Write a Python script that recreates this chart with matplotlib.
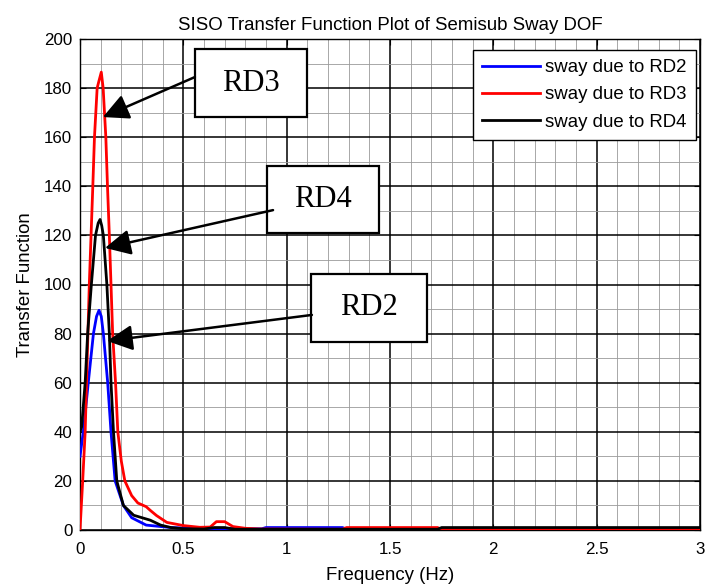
import numpy as np
import matplotlib as mpl
mpl.use("Agg")
import matplotlib.pyplot as plt
from matplotlib.patches import Rectangle
from matplotlib.ticker import MultipleLocator

mpl.rcParams.update({
    "font.family": "Liberation Sans",
    "font.size": 12.2,
    "axes.linewidth": 1.0,
})

# --- data --------------------------------------------------------------
freq_rd2 = [0, 0.016, 0.04, 0.065, 0.08, 0.092, 0.103, 0.113, 0.134, 0.15,
            0.17, 0.21, 0.25, 0.32, 0.44, 0.6, 0.88, 0.9, 1.27, 1.29, 3.0]
tf_rd2 = [30, 40, 60, 80, 87, 89.5, 87, 80, 60, 40,
          20, 10, 5, 2, 1, 0.5, 0.5, 1.0, 1.0, 0.3, 0.3]

freq_rd3 = [0, 0.013, 0.025, 0.045, 0.062, 0.07, 0.083, 0.092, 0.103, 0.112,
            0.125, 0.133, 0.142, 0.15, 0.158, 0.172, 0.183, 0.2, 0.217, 0.25,
            0.28, 0.32, 0.34, 0.37, 0.42, 0.5, 0.58, 0.63, 0.66, 0.7,
            0.74, 0.8, 0.87, 1.27, 1.29, 1.73, 1.75, 3.0]
tf_rd3 = [0, 20, 40, 100, 140, 160, 180, 183, 186.5, 180,
          160, 140, 120, 100, 80, 60, 40, 28, 20, 14,
          11, 9.5, 8, 5.9, 3.1, 1.8, 1.1, 1.2, 3.4, 3.4,
          1.4, 0.7, 0.4, 0.3, 1.0, 1.0, 0.3, 0.3]

freq_rd4 = [0, 0.008, 0.025, 0.037, 0.055, 0.075, 0.088, 0.097, 0.105, 0.113,
            0.13, 0.142, 0.15, 0.162, 0.178, 0.21, 0.26, 0.34, 0.39, 0.44,
            0.5, 0.6, 0.65, 0.7, 0.75, 1.73, 1.75, 3.0]
tf_rd4 = [40, 42, 60, 80, 100, 120, 125, 126.5, 124, 120,
          100, 80, 60, 40, 20, 10, 6, 4, 2, 1,
          0.5, 0.4, 1.0, 1.0, 0.3, 0.3, 1.0, 1.0]

series = [
    (freq_rd2, tf_rd2, "#0000FF", "sway due to RD2"),
    (freq_rd3, tf_rd3, "#FF0000", "sway due to RD3"),
    (freq_rd4, tf_rd4, "#000000", "sway due to RD4"),
]

# annotation boxes: label, box (x0, x1, y0, y1), arrow tail, arrow tip
notes = [
    ("RD3", (0.556, 1.098, 168.2, 195.9), (0.556, 184.5), (0.111, 168.2)),
    ("RD4", (0.905, 1.447, 121.0, 148.3), (0.934, 130.3), (0.121, 114.9)),
    ("RD2", (1.118, 1.680, 76.6, 104.3), (1.122, 87.6), (0.131, 77.0)),
]

# --- figure ------------------------------------------------------------
fig = plt.figure(figsize=(7.07, 5.84), dpi=100)
ax = fig.add_axes([80 / 707, 54 / 584, 620 / 707, 491 / 584])

for x, y, c, lab in series:
    ax.plot(x, y, color=c, lw=2.0, label=lab, zorder=3)

ax.set_xlim(0, 3)
ax.set_ylim(0, 200)
ax.xaxis.set_major_locator(MultipleLocator(0.5))
ax.xaxis.set_minor_locator(MultipleLocator(0.1))
ax.yaxis.set_major_locator(MultipleLocator(20))
ax.yaxis.set_minor_locator(MultipleLocator(10))
ax.grid(True, which="major", color="black", lw=1.1, zorder=1)
ax.grid(True, which="minor", color="#9a9a9a", lw=0.6, zorder=1)
ax.set_axisbelow(True)
ax.tick_params(which="both", direction="in", top=True, right=True, length=4)
ax.tick_params(which="minor", length=0)
ax.tick_params(axis="x", pad=8.5)
ax.tick_params(axis="y", pad=5.5)
ax.xaxis.set_major_formatter(mpl.ticker.FuncFormatter(lambda v, p: f"{v:g}"))

ax.set_title("SISO Transfer Function Plot of Semisub Sway DOF",
             fontsize=13.4, pad=6.5)
ax.set_xlabel("Frequency (Hz)", fontsize=13.4, labelpad=7.5)
ax.set_ylabel("Transfer Function", fontsize=13.4, labelpad=7)

leg = ax.legend(loc="upper right", bbox_to_anchor=(0.9935, 0.978),
                borderaxespad=0, fancybox=False, framealpha=1,
                edgecolor="black", handlelength=3.1, handletextpad=0.3,
                labelspacing=0.55, borderpad=0.5, fontsize=13.4)
leg.get_frame().set_linewidth(1.0)
leg.set_zorder(5)

for lab, (x0, x1, y0, y1), tail, tip in notes:
    ax.add_patch(Rectangle((x0, y0), x1 - x0, y1 - y0, facecolor="white",
                           edgecolor="black", lw=1.6, zorder=6))
    ax.text((x0 + x1) / 2, (y0 + y1) / 2, lab, ha="center", va="center",
            fontsize=22, family="Liberation Serif", zorder=7)
    ax.annotate("", xy=tip, xytext=tail, zorder=7,
                arrowprops=dict(arrowstyle="-|>,head_length=0.6,head_width=0.3",
                                color="black", lw=1.8,
                                mutation_scale=26, shrinkA=0, shrinkB=0))

fig.savefig("out.png", dpi=100)
